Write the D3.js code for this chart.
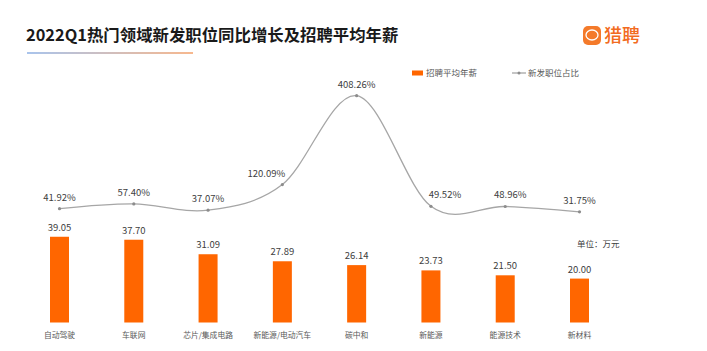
<!DOCTYPE html>
<html>
<head>
<meta charset="utf-8">
<script src="https://cdn.jsdelivr.net/npm/d3@7"></script>
<style>
    body { margin: 0; background: #fff; }
    svg { display: block; font-family: "Noto Sans CJK SC", "Noto Sans", sans-serif; }
</style>
</head>
<body>
<div id="chart"></div>
<script>
// data
const categories = ["自动驾驶", "车联网", "芯片/集成电路", "新能源/电动汽车", "碳中和", "新能源", "能源技术", "新材料"];
const salary = [39.05, 37.70, 31.09, 27.89, 26.14, 23.73, 21.50, 20.00];   // 招聘平均年薪 (万元)
const growth = [41.92, 57.40, 37.07, 120.09, 408.26, 49.52, 48.96, 31.75]; // 新发职位占比 (%)

const width = 707, height = 351;
const colors = ["#ff6600", "#a6a6a6", "#404040"]; // bars, line, labels

const svg = d3.select("#chart").append("svg")
    .attr("width", width)
    .attr("height", height);

// title + underline
svg.append("text")
    .attr("x", 26)
    .attr("y", 41)
    .attr("font-size", 16.4)
    .attr("font-weight", "bold")
    .attr("fill", "#1a1a1a")
    .text("2022Q1热门领域新发职位同比增长及招聘平均年薪");

let grad = svg.append("defs").append("linearGradient")
    .attr("id", "ul")
    .attr("x1", "0%").attr("x2", "100%");
grad.append("stop").attr("offset", "0%").attr("stop-color", "#a9c4ec");
grad.append("stop").attr("offset", "100%").attr("stop-color", "#f7b88e");

svg.append("rect")
    .attr("x", 27).attr("y", 52)
    .attr("width", 166).attr("height", 2)
    .attr("fill", "url(#ul)");

// logo
svg.append("rect")
    .attr("x", 583).attr("y", 26)
    .attr("width", 18).attr("height", 19)
    .attr("rx", 5)
    .attr("fill", "#f47a2a");
svg.append("ellipse")
    .attr("cx", 592).attr("cy", 35)
    .attr("rx", 6).attr("ry", 5)
    .attr("fill", "none")
    .attr("stroke", "#fff")
    .attr("stroke-width", 1.3);
svg.append("text")
    .attr("x", 604).attr("y", 42)
    .attr("font-size", 18)
    .attr("font-weight", 500)
    .attr("fill", "#f26b21")
    .text("猎聘");

// scales
let x = d3.scalePoint()
    .domain(categories)
    .range([59.5, 579.5]);

let yBar = d3.scaleLinear()
    .domain([0, 45])
    .range([322.5, 223.7]);

let yLine = d3.scaleLinear()
    .domain([0, 450])
    .range([221.6, 82.8]);

let barW = 19;

// bars
svg.append("g")
    .selectAll("rect")
    .data(salary)
    .join("rect")
    .attr("x", (d, i) => x(categories[i]) - barW / 2)
    .attr("y", d => yBar(d))
    .attr("width", barW)
    .attr("height", d => yBar(0) - yBar(d))
    .attr("fill", colors[0]);

svg.append("g")
    .selectAll("text")
    .data(salary)
    .join("text")
    .attr("x", (d, i) => x(categories[i]))
    .attr("y", d => yBar(d) - 6)
    .attr("text-anchor", "middle")
    .attr("font-size", 9.5)
    .attr("fill", colors[2])
    .text(d => d.toFixed(2));

// category labels
svg.append("g")
    .selectAll("text")
    .data(categories)
    .join("text")
    .attr("x", d => x(d))
    .attr("y", 338)
    .attr("text-anchor", "middle")
    .attr("font-size", 7.8)
    .attr("fill", "#595959")
    .text(d => d);

// line
let line = d3.line()
    .x((d, i) => x(categories[i]))
    .y(d => yLine(d))
    .curve(d3.curveCardinal);

svg.append("path")
    .datum(growth)
    .attr("d", line)
    .attr("fill", "none")
    .attr("stroke", colors[1])
    .attr("stroke-width", 1.3);

svg.append("g")
    .selectAll("circle")
    .data(growth)
    .join("circle")
    .attr("cx", (d, i) => x(categories[i]))
    .attr("cy", d => yLine(d))
    .attr("r", 1.6)
    .attr("fill", "#8c8c8c");

// labels nudged off the curve where it is steep
let nudge = i => (i === 3 ? -16 : i === 5 ? 14 : i === 6 ? 5 : 0);

svg.append("g")
    .selectAll("text")
    .data(growth)
    .join("text")
    .attr("x", (d, i) => x(categories[i]) + nudge(i))
    .attr("y", d => yLine(d) - 8)
    .attr("text-anchor", "middle")
    .attr("font-size", 9.5)
    .attr("fill", colors[2])
    .text(d => d.toFixed(2) + "%");

// unit
svg.append("text")
    .attr("x", 577).attr("y", 247)
    .attr("font-size", 8.5)
    .attr("fill", colors[2])
    .text("单位：万元");

// legend
let legend = svg.append("g");
legend.append("rect")
    .attr("x", 412).attr("y", 70.5)
    .attr("width", 11).attr("height", 5)
    .attr("fill", colors[0]);
legend.append("text")
    .attr("x", 426).attr("y", 76)
    .attr("font-size", 8.5)
    .attr("fill", "#595959")
    .text("招聘平均年薪");
legend.append("line")
    .attr("x1", 512).attr("x2", 526)
    .attr("y1", 73).attr("y2", 73)
    .attr("stroke", colors[1])
    .attr("stroke-width", 1.3);
legend.append("circle")
    .attr("cx", 519).attr("cy", 73)
    .attr("r", 1.5)
    .attr("fill", "#8c8c8c");
legend.append("text")
    .attr("x", 528).attr("y", 76)
    .attr("font-size", 8.5)
    .attr("fill", "#595959")
    .text("新发职位占比");
</script>
</body>
</html>
